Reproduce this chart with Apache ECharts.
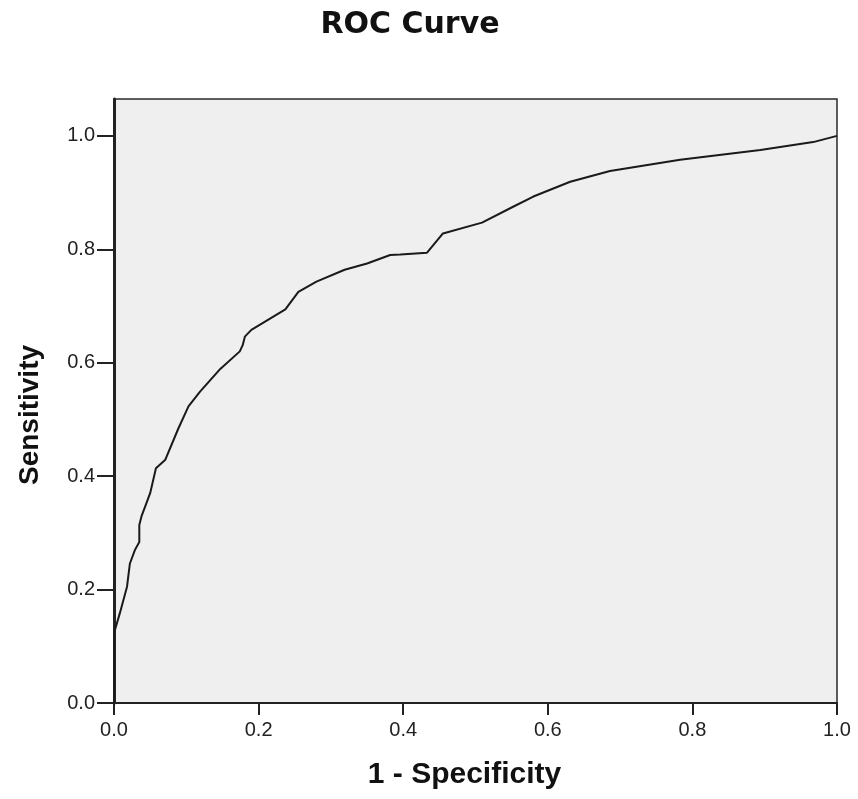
<!DOCTYPE html>
<html>
<head>
<meta charset="utf-8">
<script src="https://cdn.jsdelivr.net/npm/echarts@6/dist/echarts.min.js"></script>
<style>html,body{margin:0;padding:0;background:#fff}#chart{width:858px;height:799px}</style>
</head>
<body>
<div id="chart"></div>
<script>
const chartTitle = 'ROC Curve';
const xAxisName = '1 - Specificity';
const yAxisName = 'Sensitivity';
const tickValues = [0, 0.2, 0.4, 0.6, 0.8, 1.0];
const specificityComplement = [0, 0, 0.008, 0.018, 0.022, 0.029, 0.035, 0.035, 0.038, 0.050, 0.058, 0.071, 0.089, 0.103, 0.119, 0.147, 0.174, 0.178, 0.181, 0.190, 0.237, 0.255, 0.280, 0.319, 0.350, 0.382, 0.396, 0.433, 0.455, 0.509, 0.552, 0.580, 0.631, 0.686, 0.783, 0.894, 0.967, 1.0];
const sensitivity = [0, 0.123, 0.158, 0.205, 0.246, 0.270, 0.284, 0.314, 0.329, 0.370, 0.414, 0.429, 0.484, 0.523, 0.549, 0.589, 0.620, 0.631, 0.646, 0.658, 0.694, 0.725, 0.743, 0.764, 0.775, 0.790, 0.791, 0.794, 0.828, 0.847, 0.875, 0.893, 0.919, 0.938, 0.958, 0.975, 0.989, 1.0];

const points = specificityComplement.map((x, i) => [x, sensitivity[i]]);
const chart = echarts.init(document.getElementById('chart'));
const labelStyle = {fontFamily: 'Liberation Sans', fontSize: 20, color: '#222'};
chart.setOption({
  animation: false,
  title: {
    text: chartTitle, left: 405, top: 5, textAlign: 'center',
    textStyle: {fontFamily: 'DejaVu Sans', fontWeight: 'bold', fontSize: 30, color: '#111'}
  },
  grid: {left: 114, right: 21, top: 99, bottom: 96, show: true, backgroundColor: '#efefef', borderColor: '#2a2a2a', borderWidth: 1.5},
  xAxis: {
    type: 'value', min: 0, max: 1, interval: 0.2,
    name: xAxisName, nameLocation: 'middle', nameGap: 57,
    nameTextStyle: {fontFamily: 'Liberation Sans', fontWeight: 'bold', fontSize: 30, color: '#111', padding: [0, 22, 0, 0]},
    axisLine: {show: true, lineStyle: {color: '#222', width: 2}},
    axisTick: {show: true, length: 12, lineStyle: {color: '#222', width: 2}, customValues: tickValues},
    axisLabel: {...labelStyle, margin: 17, customValues: tickValues, formatter: v => v.toFixed(1)},
    splitLine: {show: false}
  },
  yAxis: {
    type: 'value', min: 0, max: 1.065, interval: 0.2,
    name: yAxisName, nameLocation: 'middle', nameGap: 70,
    nameTextStyle: {fontFamily: 'Liberation Sans', fontWeight: 'bold', fontSize: 28, color: '#111', padding: [0, 28, 0, 0]},
    axisLine: {show: true, lineStyle: {color: '#222', width: 3}},
    axisTick: {show: true, length: 17, lineStyle: {color: '#222', width: 2}, customValues: tickValues},
    axisLabel: {...labelStyle, margin: 19, customValues: tickValues, formatter: v => v.toFixed(1)},
    splitLine: {show: false}
  },
  series: [{
    type: 'line', data: points, showSymbol: false, symbol: 'none',
    lineStyle: {color: '#1a1a1a', width: 2}
  }]
});
</script>
</body>
</html>
